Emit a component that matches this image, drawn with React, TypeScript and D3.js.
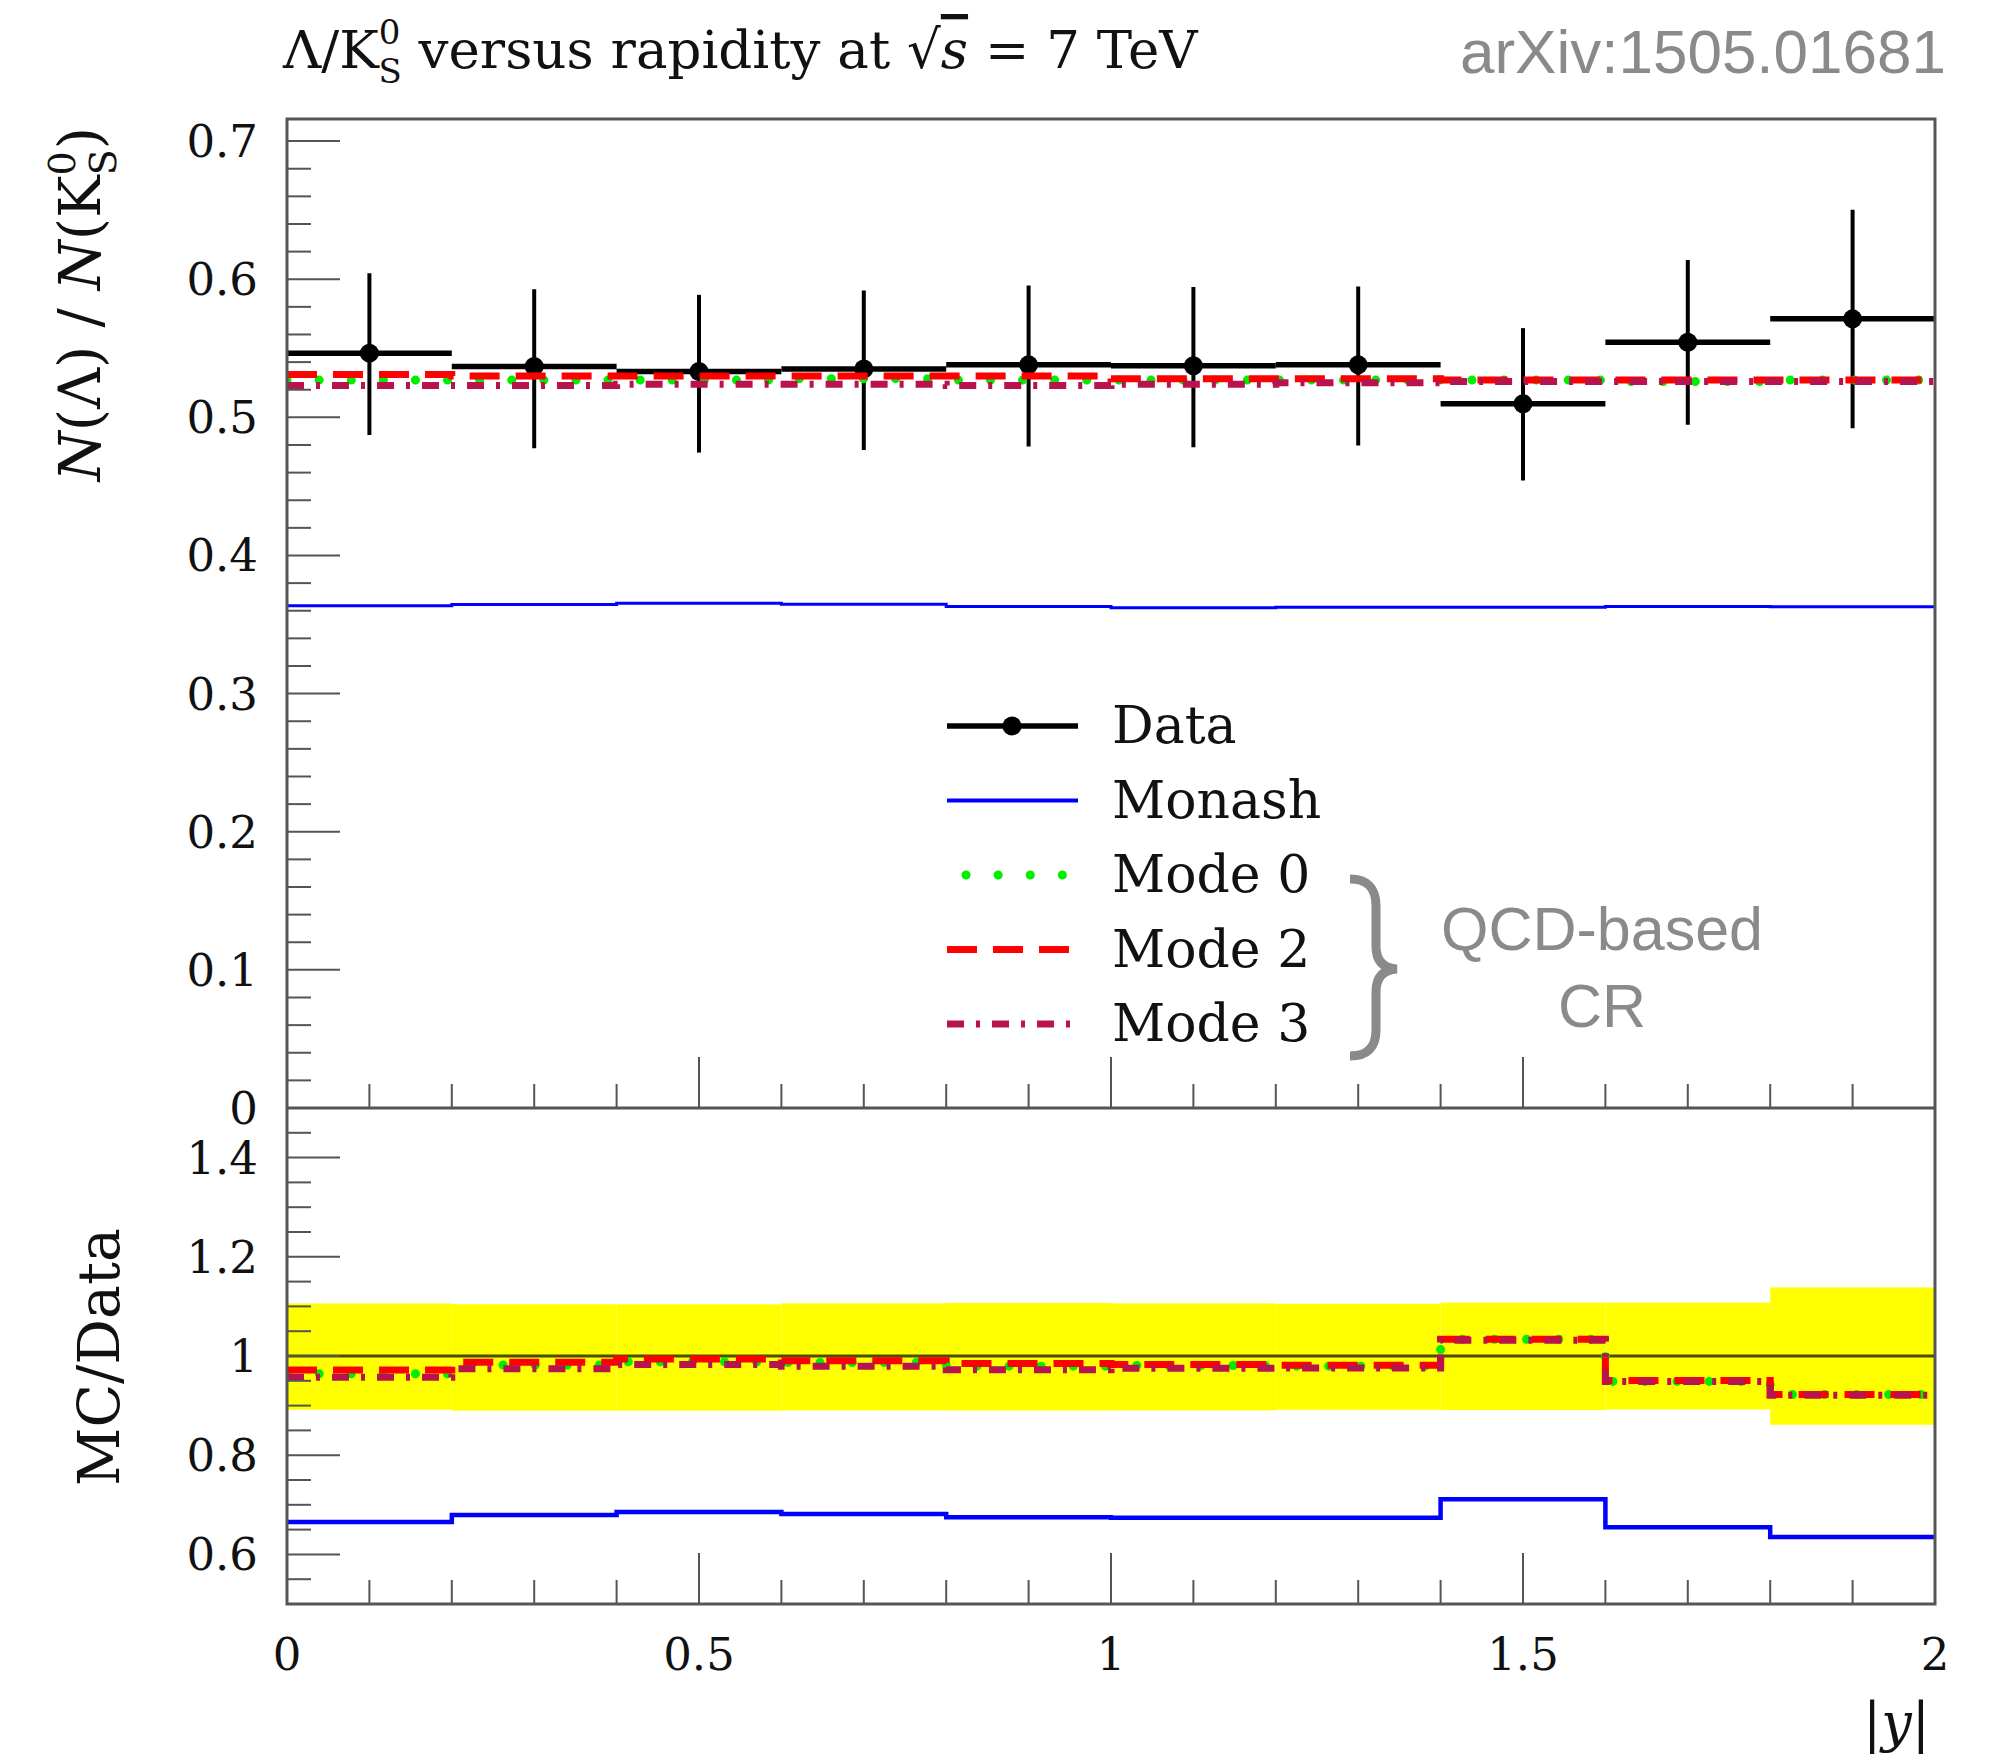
import React from 'react';
import * as d3 from 'd3';

// ---------- data ----------
const binEdges = [0, 0.2, 0.4, 0.6, 0.8, 1.0, 1.2, 1.4, 1.6, 1.8, 2.0];
const dataVal = [0.5465, 0.5368, 0.5332, 0.535, 0.538, 0.5373, 0.538, 0.5098, 0.5544, 0.5713];
const dataErrUp = [0.0579, 0.056, 0.0555, 0.0568, 0.0575, 0.057, 0.0567, 0.0548, 0.0596, 0.079];
const dataErrDn = [0.0592, 0.0591, 0.0587, 0.0586, 0.0591, 0.0589, 0.0584, 0.0555, 0.0598, 0.0792];
const monash = [0.3637, 0.3646, 0.3654, 0.3647, 0.3631, 0.3621, 0.3625, 0.3625, 0.363, 0.3629];
const mode0 = [0.527, 0.527, 0.527, 0.528, 0.527, 0.527, 0.527, 0.527, 0.526, 0.527];
const mode2 = [0.531, 0.53, 0.53, 0.53, 0.53, 0.528, 0.528, 0.527, 0.527, 0.527];
const mode3 = [0.523, 0.523, 0.524, 0.524, 0.523, 0.524, 0.525, 0.526, 0.526, 0.526];

const seriesNames = ['Monash', 'Mode 0', 'Mode 2', 'Mode 3'];
const seriesValues = [monash, mode0, mode2, mode3];

const mainTicks = [0, 0.1, 0.2, 0.3, 0.4, 0.5, 0.6, 0.7];
const mainTickLabels = ['0', '0.1', '0.2', '0.3', '0.4', '0.5', '0.6', '0.7'];
const ratioTicks = [0.6, 0.8, 1.0, 1.2, 1.4];
const ratioTickLabels = ['0.6', '0.8', '1', '1.2', '1.4'];
const xTicks = [0, 0.5, 1, 1.5, 2];
const xTickLabels = ['0', '0.5', '1', '1.5', '2'];

// ---------- styles ----------
const styles: Record<string, any> = {
  Monash: { color: '#0000ff', width: 4, dash: undefined, cap: 'butt' },
  'Mode 0': { color: '#00ee00', width: 9, dash: '0.1 32', cap: 'round' },
  'Mode 2': { color: '#ff0000', width: 7, dash: '30 16', cap: 'butt' },
  'Mode 3': { color: '#b8134f', width: 7, dash: '17 12 4 12', cap: 'butt' },
};

const SERIF = 'DejaVu Serif';
const SANS = 'Liberation Sans';

export default function App() {
  const X0 = 287, X1 = 1935, YT = 119, YM = 1108, YB = 1604;
  const x = d3.scaleLinear().domain([0, 2]).range([X0, X1]);
  const yM = d3.scaleLinear().domain([0, 0.716]).range([YM, YT]);
  const yR = d3.scaleLinear().domain([0.5, 1.5]).range([YB, YM]);

  const stepPts = (vals: number[]) => [
    ...vals.map((v, i) => [binEdges[i], v] as [number, number]),
    [binEdges[binEdges.length - 1], vals[vals.length - 1]] as [number, number],
  ];
  const lineMain = d3.line<[number, number]>().x(d => x(d[0])).y(d => yM(d[1])).curve(d3.curveStepAfter);
  const lineRatio = d3.line<[number, number]>().x(d => x(d[0])).y(d => yR(d[1])).curve(d3.curveStepAfter);

  const nb = dataVal.length;
  const bins = d3.range(nb);

  const mainYMinor = d3.range(0, 0.7001, 0.02);
  const ratioYMinor = d3.range(0.5, 1.5001, 0.05);
  const xMinor = d3.range(0, 2.0001, 0.1);
  const isMult = (v: number, s: number) => Math.abs(v / s - Math.round(v / s)) < 1e-6;

  const tickColor = '#555';
  const legendRows = ['Data', ...seriesNames];
  const legendY = (i: number) => 726 + i * 74.5;

  return (
    <svg width={1993} height={1760} style={{ position: 'absolute', left: 0, top: 0, background: '#fff' }}>
      <rect x={0} y={0} width={1993} height={1760} fill="#fff" />
      <defs>
        <clipPath id="clipMain"><rect x={X0} y={YT} width={X1 - X0} height={YM - YT} /></clipPath>
        <clipPath id="clipRatio"><rect x={X0} y={YM} width={X1 - X0} height={YB - YM} /></clipPath>
      </defs>

      {/* Title */}
      <text x={283} y={68} fontFamily={SERIF} fontSize={53} fill="#111">
        <tspan>Λ/K</tspan>
        <tspan fontSize={34} dy={-24}>0</tspan>
        <tspan fontSize={34} dx={-22} dy={39}>S</tspan>
        <tspan dy={-15}>{' versus rapidity at '}</tspan>
        <tspan>√</tspan>
        <tspan fontStyle="italic" textDecoration="overline">s</tspan>
        <tspan>{' = 7 TeV'}</tspan>
      </text>
      <text x={1946} y={73} fontFamily={SANS} fontSize={62} fill="#8a8a8a" textAnchor="end">arXiv:1505.01681</text>

      {/* ratio band */}
      <g clipPath="url(#clipRatio)">
        {bins.map(i => (
          <rect key={'band' + i} x={x(binEdges[i])} width={x(binEdges[i + 1]) - x(binEdges[i])}
            y={yR(1 + dataErrUp[i] / dataVal[i])}
            height={yR(1 - dataErrDn[i] / dataVal[i]) - yR(1 + dataErrUp[i] / dataVal[i])}
            fill="#ffff00" />
        ))}
        <line x1={X0} x2={X1} y1={yR(1)} y2={yR(1)} stroke="#000" strokeOpacity={0.7} strokeWidth={3} />
        {seriesNames.map((n, k) => {
          const st = styles[n];
          const r = seriesValues[k].map((v, i) => v / dataVal[i]);
          return <path key={'r' + n} d={lineRatio(stepPts(r)) || ''} fill="none" stroke={st.color}
            strokeWidth={n === 'Monash' ? 4.5 : st.width} strokeDasharray={st.dash} strokeLinecap={st.cap} />;
        })}
      </g>

      {/* main panel */}
      <g clipPath="url(#clipMain)">
        {bins.map(i => {
          const cx = x((binEdges[i] + binEdges[i + 1]) / 2);
          return (
            <g key={'d' + i}>
              <line x1={x(binEdges[i])} x2={x(binEdges[i + 1])} y1={yM(dataVal[i])} y2={yM(dataVal[i])} stroke="#000" strokeWidth={5.5} />
              <line x1={cx} x2={cx} y1={yM(dataVal[i] + dataErrUp[i])} y2={yM(dataVal[i] - dataErrDn[i])} stroke="#000" strokeWidth={4} />
              <circle cx={cx} cy={yM(dataVal[i])} r={9.5} fill="#000" />
            </g>
          );
        })}
        {seriesNames.map((n, k) => {
          const st = styles[n];
          return <path key={'m' + n} d={lineMain(stepPts(seriesValues[k])) || ''} fill="none" stroke={st.color}
            strokeWidth={n === 'Monash' ? 3 : st.width} strokeDasharray={st.dash} strokeLinecap={st.cap} />;
        })}
      </g>

      {/* ticks */}
      {mainYMinor.map(v => {
        const maj = isMult(v, 0.1);
        return <line key={'my' + v} x1={X0} x2={X0 + (maj ? 53 : 24)} y1={yM(v)} y2={yM(v)} stroke={tickColor} strokeWidth={2} />;
      })}
      {ratioYMinor.map(v => {
        const maj = isMult(v, 0.2) && v > 0.55 && v < 1.45;
        return <line key={'ry' + v} x1={X0} x2={X0 + (maj ? 53 : 24)} y1={yR(v)} y2={yR(v)} stroke={tickColor} strokeWidth={2} />;
      })}
      {xMinor.map(v => {
        const maj = isMult(v, 0.5);
        const len = maj ? 51 : 24;
        return (
          <g key={'xt' + v}>
            <line x1={x(v)} x2={x(v)} y1={YM} y2={YM - len} stroke={tickColor} strokeWidth={2} />
            <line x1={x(v)} x2={x(v)} y1={YB} y2={YB - len} stroke={tickColor} strokeWidth={2} />
          </g>
        );
      })}

      {/* frames */}
      <rect x={X0} y={YT} width={X1 - X0} height={YB - YT} fill="none" stroke="#555" strokeWidth={3} />
      <line x1={X0} x2={X1} y1={YM} y2={YM} stroke="#555" strokeWidth={3} />

      {/* tick labels */}
      {mainTicks.map((v, i) => (
        <text key={'ml' + i} x={258} y={yM(v) + 16} textAnchor="end" fontFamily={SERIF} fontSize={45} fill="#111">{mainTickLabels[i]}</text>
      ))}
      {ratioTicks.map((v, i) => (
        <text key={'rl' + i} x={258} y={yR(v) + 16} textAnchor="end" fontFamily={SERIF} fontSize={45} fill="#111">{ratioTickLabels[i]}</text>
      ))}
      {xTicks.map((v, i) => (
        <text key={'xl' + i} x={x(v)} y={1670} textAnchor="middle" fontFamily={SERIF} fontSize={45} fill="#111">{xTickLabels[i]}</text>
      ))}

      {/* axis titles */}
      <text transform="translate(100,127) rotate(-90)" textAnchor="end" fontFamily={SERIF} fontSize={57} fill="#111">
        <tspan fontStyle="italic">N</tspan>
        <tspan>(Λ) / </tspan>
        <tspan fontStyle="italic">N</tspan>
        <tspan>(K</tspan>
        <tspan fontSize={38} dy={-25}>0</tspan>
        <tspan fontSize={38} dx={-24} dy={41}>S</tspan>
        <tspan dy={-16}>)</tspan>
      </text>
      <text transform="translate(119,1357) rotate(-90)" textAnchor="middle" fontFamily={SERIF} fontSize={57} fill="#111">MC/Data</text>
      <text x={1930} y={1741} textAnchor="end" fontFamily={SERIF} fontSize={54} fill="#111">
        <tspan>|</tspan><tspan fontStyle="italic">y</tspan><tspan>|</tspan>
      </text>

      {/* legend */}
      {legendRows.map((n, i) => {
        const y = legendY(i);
        if (n === 'Data') {
          return (
            <g key="lg-data">
              <line x1={947} x2={1078} y1={y} y2={y} stroke="#000" strokeWidth={5.5} />
              <circle cx={1012} cy={y} r={9.5} fill="#000" />
              <text x={1112} y={y + 17} fontFamily={SERIF} fontSize={52} fill="#111">{n}</text>
            </g>
          );
        }
        const st = styles[n];
        return (
          <g key={'lg' + n}>
            <line x1={n === 'Mode 0' ? 966 : 947} x2={1078} y1={y} y2={y} stroke={st.color} strokeWidth={st.width}
              strokeDasharray={st.dash} strokeLinecap={st.cap} />
            <text x={1112} y={y + 17} fontFamily={SERIF} fontSize={52} fill="#111">{n}</text>
          </g>
        );
      })}

      {/* brace + annotation */}
      <path d="M1350,879 Q1376,879 1376,906 L1376,946 Q1376,968 1397,969 Q1376,970 1376,992 L1376,1030 Q1376,1056 1350,1056"
        fill="none" stroke="#8a8a8a" strokeWidth={9} />
      <text x={1602} y={950} textAnchor="middle" fontFamily={SANS} fontSize={61} fill="#8a8a8a">QCD-based</text>
      <text x={1602} y={1027} textAnchor="middle" fontFamily={SANS} fontSize={61} fill="#8a8a8a">CR</text>
    </svg>
  );
}
